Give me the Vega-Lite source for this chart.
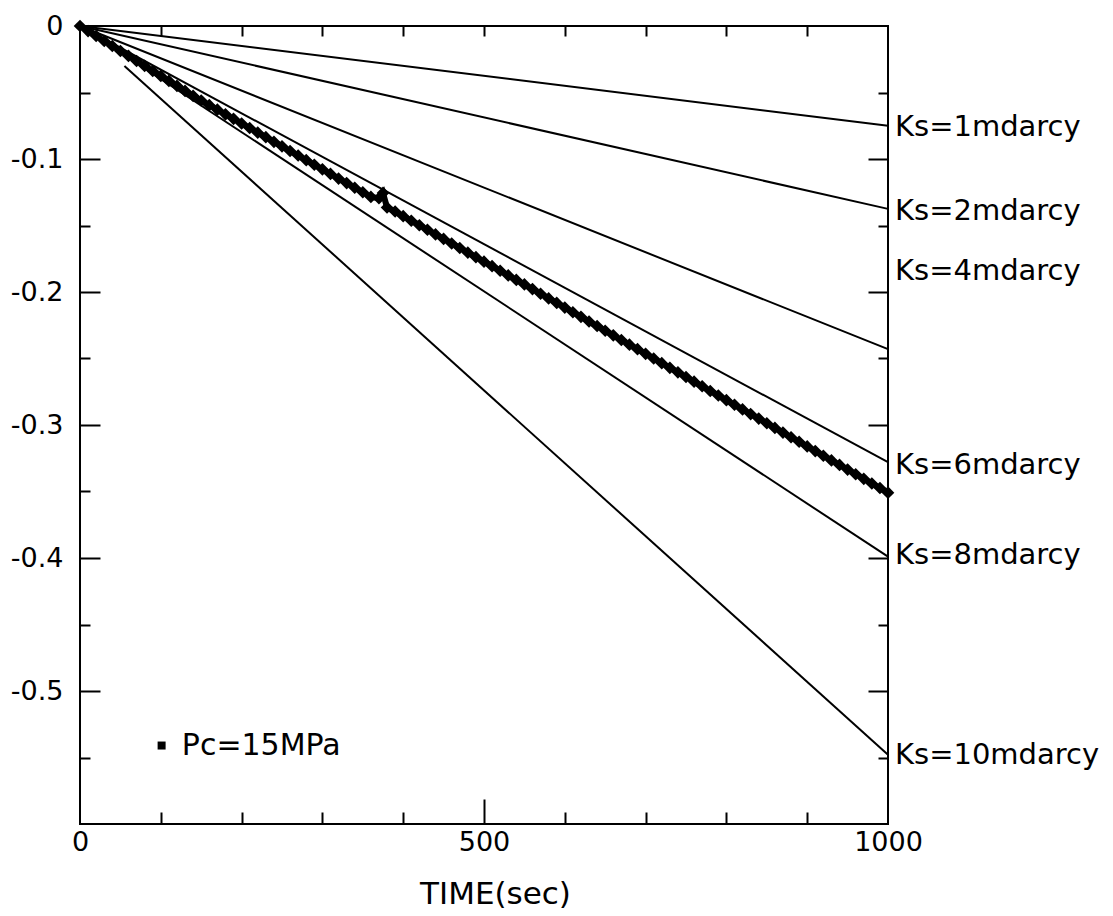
{
  "$schema": "https://vega.github.io/schema/vega-lite/v6.json",
  "width": 808,
  "height": 798,
  "autosize": "none",
  "padding": {"left": 80, "top": 26, "right": 225, "bottom": 92},
  "background": "white",
  "config": {
    "view": {"stroke": "black", "strokeWidth": 2},
    "axis": {"domain": false, "grid": false, "tickColor": "black", "tickWidth": 2, "labelColor": "black", "labelFont": "DejaVu Sans", "labelFontSize": 27, "titleFont": "DejaVu Sans", "titleFontWeight": "normal", "titleColor": "black", "labelFlush": false}
  },
  "datasets": {
    "ks": [
      {"ks": "1", "t": 0, "p": 0}, {"ks": "1", "t": 1000, "p": -0.075},
      {"ks": "2", "t": 0, "p": 0}, {"ks": "2", "t": 1000, "p": -0.1375},
      {"ks": "4", "t": 0, "p": 0}, {"ks": "4", "t": 1000, "p": -0.243},
      {"ks": "6", "t": 0, "p": 0}, {"ks": "6", "t": 1000, "p": -0.328},
      {"ks": "8", "t": 0, "p": 0}, {"ks": "8", "t": 1000, "p": -0.399},
      {"ks": "10", "t": 55, "p": -0.030}, {"ks": "10", "t": 1000, "p": -0.548}
    ],
    "labels": [
      {"label": "Ks=1mdarcy", "t": 1000, "p": -0.076},
      {"label": "Ks=2mdarcy", "t": 1000, "p": -0.139},
      {"label": "Ks=4mdarcy", "t": 1000, "p": -0.184},
      {"label": "Ks=6mdarcy", "t": 1000, "p": -0.330},
      {"label": "Ks=8mdarcy", "t": 1000, "p": -0.398},
      {"label": "Ks=10mdarcy", "t": 1000, "p": -0.548}
    ],
    "legend": [
      {"label": "Pc=15MPa", "t": 101, "tt": 126, "p": -0.541}
    ],
    "series": [
      {"t": 0, "p": 0}, {"t": 10, "p": -0.0038}, {"t": 20, "p": -0.0075}, {"t": 30, "p": -0.0113},
      {"t": 40, "p": -0.015}, {"t": 50, "p": -0.0188}, {"t": 60, "p": -0.0225}, {"t": 70, "p": -0.0263},
      {"t": 80, "p": -0.030}, {"t": 90, "p": -0.0338}, {"t": 100, "p": -0.0375}, {"t": 110, "p": -0.0413},
      {"t": 120, "p": -0.045}, {"t": 130, "p": -0.0488}, {"t": 140, "p": -0.0525}, {"t": 150, "p": -0.056},
      {"t": 160, "p": -0.0595}, {"t": 170, "p": -0.0629}, {"t": 180, "p": -0.0664}, {"t": 190, "p": -0.0698},
      {"t": 200, "p": -0.0733}, {"t": 210, "p": -0.0767}, {"t": 220, "p": -0.0802}, {"t": 230, "p": -0.0836},
      {"t": 240, "p": -0.0871}, {"t": 250, "p": -0.0905}, {"t": 260, "p": -0.094}, {"t": 270, "p": -0.0974},
      {"t": 280, "p": -0.1009}, {"t": 290, "p": -0.1043}, {"t": 300, "p": -0.1078}, {"t": 310, "p": -0.1112},
      {"t": 320, "p": -0.1147}, {"t": 330, "p": -0.1181}, {"t": 340, "p": -0.1216}, {"t": 350, "p": -0.125},
      {"t": 360, "p": -0.1285}, {"t": 370, "p": -0.1295}, {"t": 375, "p": -0.1255}, {"t": 380, "p": -0.1365},
      {"t": 390, "p": -0.1395}, {"t": 400, "p": -0.143}, {"t": 410, "p": -0.1464}, {"t": 420, "p": -0.1498},
      {"t": 430, "p": -0.1532}, {"t": 440, "p": -0.1567}, {"t": 450, "p": -0.1601}, {"t": 460, "p": -0.1635},
      {"t": 470, "p": -0.1669}, {"t": 480, "p": -0.1704}, {"t": 490, "p": -0.1738}, {"t": 500, "p": -0.1772},
      {"t": 510, "p": -0.1806}, {"t": 520, "p": -0.184}, {"t": 530, "p": -0.1875}, {"t": 540, "p": -0.1909},
      {"t": 550, "p": -0.1943}, {"t": 560, "p": -0.1978}, {"t": 570, "p": -0.2013}, {"t": 580, "p": -0.2048},
      {"t": 590, "p": -0.2082}, {"t": 600, "p": -0.2117}, {"t": 610, "p": -0.2152}, {"t": 620, "p": -0.2187},
      {"t": 630, "p": -0.2222}, {"t": 640, "p": -0.2256}, {"t": 650, "p": -0.2291}, {"t": 660, "p": -0.2326},
      {"t": 670, "p": -0.2361}, {"t": 680, "p": -0.2396}, {"t": 690, "p": -0.243}, {"t": 700, "p": -0.2465},
      {"t": 710, "p": -0.25}, {"t": 720, "p": -0.2535}, {"t": 730, "p": -0.257}, {"t": 740, "p": -0.2604},
      {"t": 750, "p": -0.2639}, {"t": 760, "p": -0.2674}, {"t": 770, "p": -0.2709}, {"t": 780, "p": -0.2744},
      {"t": 790, "p": -0.2778}, {"t": 800, "p": -0.2813}, {"t": 810, "p": -0.2848}, {"t": 820, "p": -0.2883},
      {"t": 830, "p": -0.2918}, {"t": 840, "p": -0.2952}, {"t": 850, "p": -0.2987}, {"t": 860, "p": -0.3022},
      {"t": 870, "p": -0.3057}, {"t": 880, "p": -0.3092}, {"t": 890, "p": -0.3126}, {"t": 900, "p": -0.3161},
      {"t": 910, "p": -0.3196}, {"t": 920, "p": -0.3231}, {"t": 930, "p": -0.3266}, {"t": 940, "p": -0.33},
      {"t": 950, "p": -0.3335}, {"t": 960, "p": -0.337}, {"t": 970, "p": -0.3405}, {"t": 980, "p": -0.344},
      {"t": 990, "p": -0.3474}, {"t": 1000, "p": -0.3509}
    ]
  },
  "resolve": {"axis": {"x": "independent", "y": "independent"}},
  "layer": [
    {
      "data": {"name": "ks"},
      "mark": {"type": "line", "color": "black", "strokeWidth": 2},
      "encoding": {
        "x": {"field": "t", "type": "quantitative", "scale": {"domain": [0, 1000], "nice": false, "zero": false},
          "axis": {"orient": "bottom", "values": [0, 500, 1000], "format": "d", "ticks": false,
            "labelPadding": 5, "title": "TIME(sec)", "titleFontSize": 31, "titlePadding": 24, "titleX": 415, "titleAlign": "center"}},
        "y": {"field": "p", "type": "quantitative", "scale": {"domain": [-0.6, 0], "nice": false, "zero": false},
          "axis": {"orient": "left", "values": [0, -0.1, -0.2, -0.3, -0.4, -0.5], "ticks": false,
            "labelExpr": "datum.value == 0 ? '0' : '-' + format(-datum.value, '.1f')",
            "labelPadding": 17, "title": null}},
        "detail": {"field": "ks"}
      }
    },
    {
      "data": {"name": "series"},
      "mark": {"type": "line", "color": "black", "strokeWidth": 6},
      "encoding": {
        "x": {"field": "t", "type": "quantitative", "axis": null},
        "y": {"field": "p", "type": "quantitative", "axis": null}
      }
    },
    {
      "data": {"name": "series"},
      "mark": {"type": "point", "shape": "square", "angle": 45, "filled": true, "color": "black", "opacity": 1, "size": 80},
      "encoding": {
        "x": {"field": "t", "type": "quantitative", "axis": null},
        "y": {"field": "p", "type": "quantitative", "axis": null}
      }
    },
    {
      "data": {"name": "labels"},
      "mark": {"type": "text", "align": "left", "baseline": "middle", "dx": 7, "font": "DejaVu Sans", "fontSize": 29, "color": "black"},
      "encoding": {
        "x": {"field": "t", "type": "quantitative", "axis": null},
        "y": {"field": "p", "type": "quantitative", "axis": null},
        "text": {"field": "label"}
      }
    },
    {
      "data": {"name": "legend"},
      "mark": {"type": "point", "shape": "square", "filled": true, "color": "black", "opacity": 1, "size": 64},
      "encoding": {
        "x": {"field": "t", "type": "quantitative", "axis": null},
        "y": {"field": "p", "type": "quantitative", "axis": null}
      }
    },
    {
      "data": {"name": "legend"},
      "mark": {"type": "text", "align": "left", "baseline": "middle", "font": "DejaVu Sans", "fontSize": 30, "color": "black"},
      "encoding": {
        "x": {"field": "tt", "type": "quantitative", "axis": null},
        "y": {"field": "p", "type": "quantitative", "axis": null},
        "text": {"field": "label"}
      }
    },
    {
      "data": {"name": "ks"},
      "mark": {"type": "line", "opacity": 0},
      "encoding": {
        "x": {"field": "t", "type": "quantitative",
          "axis": {"orient": "bottom", "values": [100, 200, 300, 400, 500, 600, 700, 800, 900],
            "tickSize": {"condition": {"test": "datum.value == 500", "value": -25}, "value": -12},
            "labels": false, "title": null}},
        "y": {"field": "p", "type": "quantitative",
          "axis": {"orient": "left", "values": [-0.05, -0.1, -0.15, -0.2, -0.25, -0.3, -0.35, -0.4, -0.45, -0.5, -0.55],
            "tickSize": {"condition": {"test": "abs(round(datum.value * 20)) % 2 == 0", "value": -20}, "value": -10},
            "labels": false, "title": null}},
        "detail": {"field": "ks"}
      }
    },
    {
      "data": {"name": "ks"},
      "mark": {"type": "line", "opacity": 0},
      "encoding": {
        "x": {"field": "t", "type": "quantitative",
          "axis": {"orient": "top", "values": [100, 200, 300, 400, 500, 600, 700, 800, 900], "tickSize": -10, "labels": false, "title": null}},
        "y": {"field": "p", "type": "quantitative",
          "axis": {"orient": "right", "values": [-0.05, -0.1, -0.15, -0.2, -0.25, -0.3, -0.35, -0.4, -0.45, -0.5, -0.55],
            "tickSize": {"condition": {"test": "abs(round(datum.value * 20)) % 2 == 0", "value": -20}, "value": -10},
            "labels": false, "title": null}},
        "detail": {"field": "ks"}
      }
    }
  ]
}
